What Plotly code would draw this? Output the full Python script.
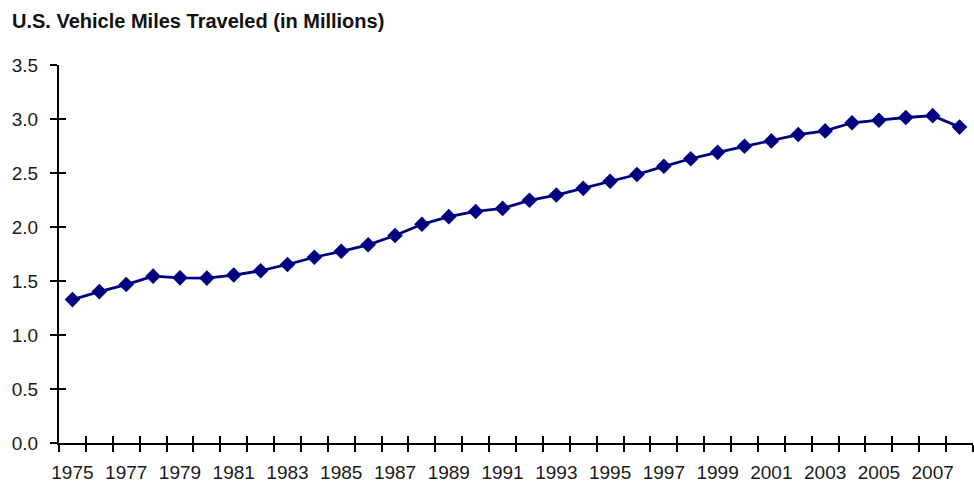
import plotly.graph_objects as go

years = list(range(1975, 2009))
vmt = [1.328, 1.402, 1.467, 1.545, 1.529, 1.527, 1.555, 1.595, 1.653, 1.720,
       1.775, 1.835, 1.921, 2.025, 2.096, 2.144, 2.172, 2.247, 2.296, 2.358,
       2.423, 2.486, 2.562, 2.632, 2.691, 2.747, 2.797, 2.856, 2.890, 2.965,
       2.989, 3.014, 3.031, 2.925]
label_years = [y for y in years if y % 2 == 1]
boundaries = [y - 0.5 for y in years] + [years[-1] + 0.5]

FONT = "Liberation Sans, Arial, sans-serif"
NAVY = "#000080"

fig = go.Figure()
fig.add_trace(go.Scatter(
    x=years, y=vmt, mode="lines+markers",
    line=dict(color=NAVY, width=2.8),
    marker=dict(symbol="diamond", size=12, color=NAVY),
    showlegend=False, hoverinfo="x+y"))
# empty helper traces so the overlay axes (inner ticks / labels) are drawn
fig.add_trace(go.Scatter(x=[], y=[], xaxis="x2", yaxis="y2",
                         showlegend=False, hoverinfo="skip"))
fig.add_trace(go.Scatter(x=[], y=[], xaxis="x3", yaxis="y",
                         showlegend=False, hoverinfo="skip"))

xr = [years[0] - 0.5, years[-1] + 0.5]
yr = [0, 3.5]

common = dict(showgrid=False, zeroline=False, automargin=False, fixedrange=True)

fig.update_layout(
    width=974, height=492,
    margin=dict(l=59, r=1, t=65, b=49, autoexpand=False),
    paper_bgcolor="white", plot_bgcolor="white",
    font=dict(family=FONT, size=19, color="#1a1a1a"),
    title=dict(text="<b>U.S. Vehicle Miles Traveled (in Millions)</b>",
               xref="container", yref="container",
               x=12/974, xanchor="left", y=1-21/492, yanchor="middle",
               font=dict(family=FONT, size=20, color="#111111")),
    xaxis=dict(range=xr, tickmode="array", tickvals=boundaries,
               showticklabels=False, ticks="outside", ticklen=7,
               tickwidth=2, tickcolor="black", showline=True,
               linecolor="black", linewidth=2, **common),
    xaxis2=dict(range=xr, overlaying="x", side="bottom", anchor="y",
                tickmode="array", tickvals=boundaries, showticklabels=False,
                ticks="inside", ticklen=7, tickwidth=2, tickcolor="black",
                showline=False, **common),
    xaxis3=dict(range=xr, overlaying="x", side="bottom", anchor="y",
                tickmode="array", tickvals=label_years,
                ticktext=[str(y) for y in label_years],
                ticks="", showline=False, ticklabelstandoff=16, **common),
    yaxis=dict(range=yr, tickmode="linear", tick0=0, dtick=0.5,
               tickformat=".1f", ticks="outside", ticklen=7, tickwidth=2,
               tickcolor="black", showline=True, linecolor="black",
               linewidth=2, ticklabelstandoff=8, **common),
    yaxis2=dict(range=yr, overlaying="y", side="left", anchor="x2",
                tickmode="linear", tick0=0, dtick=0.5, showticklabels=False,
                ticks="inside", ticklen=7, tickwidth=2, tickcolor="black",
                showline=False, **common),
)

fig.write_html("out.html", config={"displayModeBar": False},
               post_script="document.body.style.margin='0';document.body.style.padding='0';")
